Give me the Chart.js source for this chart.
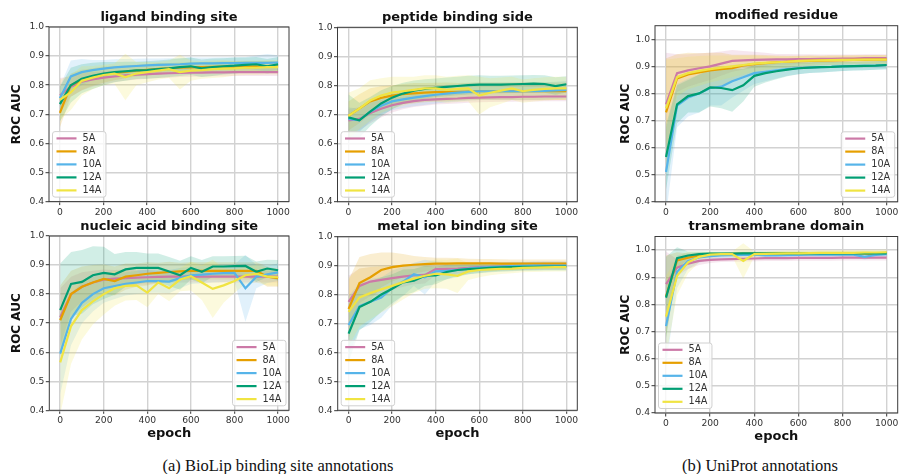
<!DOCTYPE html>
<html><head><meta charset="utf-8">
<script src="https://cdn.jsdelivr.net/npm/chart.js@4.4.0/dist/chart.umd.min.js"></script>
<style>
html,body{margin:0;padding:0;background:#fff;overflow:hidden;width:900px;height:474px;position:relative;}
.pc{position:absolute;}
.cap{position:absolute;font-family:"Liberation Serif","Times New Roman",serif;font-size:16.5px;color:#111;white-space:nowrap;transform:translate(-50%,-50%);line-height:1;}
</style></head><body>
<div class="cap" style="left:278px;top:466px">(a) BioLip binding site annotations</div>
<div class="cap" style="left:760px;top:466px">(b) UniProt annotations</div>
<script>
// ---------- data ----------
const epochs = [0,50,100,150,200,250,300,350,400,450,500,550,600,650,700,750,800,850,900,950,1000];
const seriesNames = ['5A','8A','10A','12A','14A'];
const seriesColors = ['#CC79A7','#E69F00','#56B4E9','#009E73','#F0E442'];
const xTicks = [0,200,400,600,800,1000];
const yTicks = [0.4,0.5,0.6,0.7,0.8,0.9,1.0];
const panelTitles = ['ligand binding site','peptide binding side','modified residue','nucleic acid binding site','metal ion binding site','transmembrane domain'];

// ligand binding site
const ligand5A  = [0.765,0.795,0.812,0.820,0.826,0.830,0.834,0.836,0.838,0.840,0.841,0.842,0.843,0.843,0.844,0.844,0.845,0.845,0.845,0.845,0.845];
const ligand8A  = [0.705,0.800,0.818,0.828,0.836,0.842,0.846,0.850,0.853,0.856,0.858,0.860,0.861,0.862,0.863,0.864,0.864,0.865,0.865,0.865,0.865];
const ligand10A = [0.755,0.830,0.845,0.852,0.857,0.861,0.864,0.866,0.868,0.870,0.871,0.872,0.874,0.875,0.875,0.876,0.876,0.877,0.877,0.877,0.878];
const ligand12A = [0.735,0.800,0.822,0.832,0.840,0.845,0.848,0.851,0.852,0.855,0.858,0.862,0.865,0.858,0.862,0.865,0.867,0.870,0.872,0.865,0.872];
const ligand14A = [0.750,0.775,0.815,0.826,0.835,0.840,0.828,0.840,0.845,0.850,0.855,0.845,0.850,0.852,0.855,0.857,0.858,0.860,0.860,0.862,0.862];
const ligandSd5A  = [0.060,0.035,0.030,0.025,0.022,0.020,0.018,0.017,0.016,0.015,0.015,0.014,0.014,0.014,0.013,0.013,0.013,0.013,0.013,0.013,0.013];
const ligandSd8A  = [0.050,0.040,0.035,0.030,0.028,0.025,0.022,0.020,0.020,0.020,0.018,0.018,0.018,0.018,0.018,0.018,0.018,0.018,0.018,0.018,0.018];
const ligandSd10A = [0.040,0.055,0.045,0.035,0.030,0.028,0.026,0.025,0.024,0.022,0.022,0.022,0.022,0.020,0.020,0.020,0.020,0.020,0.025,0.030,0.025];
const ligandSd12A = [0.060,0.060,0.050,0.045,0.040,0.035,0.033,0.030,0.030,0.030,0.030,0.030,0.030,0.030,0.030,0.028,0.028,0.025,0.025,0.025,0.025];
const ligandSd14A = [0.070,0.060,0.050,0.040,0.035,0.035,0.080,0.040,0.035,0.030,0.030,0.060,0.035,0.030,0.030,0.030,0.025,0.025,0.025,0.025,0.025];

// peptide binding side
const peptide5A  = [0.680,0.685,0.705,0.720,0.732,0.740,0.746,0.750,0.752,0.754,0.755,0.757,0.758,0.759,0.760,0.760,0.761,0.761,0.762,0.762,0.762];
const peptide8A  = [0.695,0.720,0.745,0.757,0.765,0.770,0.773,0.775,0.777,0.778,0.778,0.779,0.780,0.780,0.780,0.780,0.780,0.780,0.780,0.780,0.780];
const peptide10A = [0.685,0.680,0.710,0.730,0.745,0.752,0.758,0.763,0.768,0.772,0.775,0.778,0.780,0.780,0.780,0.780,0.780,0.780,0.781,0.783,0.785];
const peptide12A = [0.690,0.680,0.710,0.738,0.758,0.772,0.782,0.788,0.792,0.795,0.798,0.801,0.803,0.803,0.803,0.804,0.805,0.806,0.805,0.798,0.804];
const peptide14A = [0.695,0.720,0.748,0.765,0.775,0.780,0.785,0.790,0.790,0.785,0.788,0.790,0.765,0.775,0.782,0.790,0.780,0.785,0.788,0.790,0.790];
const peptideSd5A  = [0.040,0.040,0.035,0.030,0.025,0.022,0.020,0.020,0.018,0.018,0.017,0.017,0.016,0.016,0.016,0.016,0.016,0.016,0.016,0.016,0.016];
const peptideSd8A  = [0.050,0.050,0.045,0.040,0.035,0.035,0.035,0.033,0.032,0.032,0.030,0.030,0.030,0.030,0.030,0.030,0.030,0.030,0.030,0.030,0.030];
const peptideSd10A = [0.040,0.040,0.035,0.030,0.030,0.030,0.030,0.030,0.030,0.030,0.030,0.030,0.030,0.030,0.030,0.030,0.030,0.030,0.030,0.030,0.030];
const peptideSd12A = [0.080,0.060,0.050,0.045,0.040,0.037,0.035,0.033,0.032,0.032,0.032,0.032,0.032,0.030,0.030,0.030,0.030,0.030,0.030,0.030,0.028];
const peptideSd14A = [0.080,0.070,0.070,0.060,0.055,0.050,0.045,0.045,0.045,0.045,0.045,0.045,0.065,0.050,0.045,0.040,0.040,0.040,0.040,0.040,0.040];

// modified residue
const modified5A  = [0.760,0.875,0.885,0.893,0.900,0.910,0.920,0.922,0.924,0.925,0.926,0.926,0.927,0.927,0.928,0.928,0.929,0.929,0.930,0.930,0.930];
const modified8A  = [0.730,0.855,0.870,0.878,0.885,0.890,0.893,0.903,0.908,0.912,0.915,0.917,0.919,0.920,0.921,0.922,0.923,0.924,0.924,0.925,0.925];
const modified10A = [0.510,0.755,0.785,0.800,0.820,0.825,0.845,0.860,0.875,0.880,0.885,0.890,0.893,0.895,0.897,0.898,0.900,0.901,0.902,0.903,0.905];
const modified12A = [0.565,0.760,0.790,0.800,0.822,0.820,0.812,0.830,0.865,0.875,0.882,0.888,0.893,0.895,0.897,0.898,0.900,0.901,0.902,0.903,0.905];
const modified14A = [0.745,0.860,0.875,0.883,0.890,0.895,0.900,0.905,0.910,0.913,0.915,0.917,0.920,0.921,0.922,0.923,0.924,0.924,0.925,0.925,0.925];
const modifiedSd5A  = [0.190,0.070,0.060,0.055,0.050,0.045,0.040,0.035,0.030,0.025,0.020,0.020,0.018,0.018,0.016,0.016,0.015,0.015,0.015,0.015,0.015];
const modifiedSd8A  = [0.200,0.090,0.080,0.070,0.065,0.060,0.050,0.040,0.035,0.030,0.025,0.022,0.020,0.020,0.018,0.018,0.017,0.017,0.017,0.017,0.017];
const modifiedSd10A = [0.160,0.080,0.070,0.070,0.065,0.070,0.060,0.050,0.040,0.035,0.030,0.025,0.022,0.020,0.020,0.018,0.017,0.016,0.016,0.016,0.016];
const modifiedSd12A = [0.120,0.070,0.060,0.070,0.070,0.075,0.080,0.060,0.040,0.035,0.030,0.025,0.022,0.020,0.020,0.018,0.017,0.016,0.016,0.016,0.016];
const modifiedSd14A = [0.180,0.070,0.060,0.055,0.050,0.045,0.040,0.035,0.030,0.025,0.022,0.020,0.018,0.018,0.017,0.017,0.016,0.016,0.016,0.016,0.016];

// nucleic acid binding site
const nucleic5A  = [0.720,0.800,0.825,0.840,0.850,0.853,0.855,0.857,0.858,0.859,0.860,0.860,0.860,0.860,0.860,0.860,0.860,0.860,0.860,0.860,0.860];
const nucleic8A  = [0.710,0.800,0.825,0.840,0.852,0.845,0.860,0.865,0.870,0.873,0.876,0.878,0.880,0.880,0.880,0.880,0.880,0.880,0.880,0.860,0.855];
const nucleic10A = [0.595,0.715,0.770,0.800,0.820,0.828,0.835,0.840,0.845,0.845,0.843,0.855,0.865,0.867,0.870,0.872,0.873,0.820,0.860,0.868,0.875];
const nucleic12A = [0.745,0.835,0.842,0.865,0.873,0.868,0.885,0.890,0.890,0.890,0.878,0.865,0.890,0.877,0.895,0.895,0.896,0.897,0.877,0.888,0.882];
const nucleic14A = [0.565,0.690,0.745,0.775,0.800,0.820,0.828,0.830,0.805,0.840,0.820,0.850,0.862,0.840,0.818,0.830,0.845,0.865,0.870,0.860,0.858];
const nucleicSd5A  = [0.100,0.060,0.050,0.040,0.035,0.030,0.030,0.025,0.025,0.020,0.020,0.020,0.020,0.020,0.020,0.020,0.020,0.020,0.020,0.020,0.020];
const nucleicSd8A  = [0.120,0.080,0.070,0.060,0.050,0.050,0.045,0.040,0.040,0.035,0.035,0.030,0.030,0.030,0.030,0.030,0.030,0.030,0.030,0.035,0.030];
const nucleicSd10A = [0.140,0.090,0.070,0.060,0.050,0.045,0.040,0.040,0.040,0.040,0.040,0.035,0.030,0.030,0.030,0.030,0.030,0.115,0.040,0.030,0.030];
const nucleicSd12A = [0.160,0.110,0.110,0.100,0.090,0.070,0.060,0.055,0.050,0.050,0.050,0.050,0.040,0.040,0.035,0.035,0.035,0.035,0.035,0.030,0.035];
const nucleicSd14A = [0.180,0.130,0.100,0.080,0.070,0.060,0.050,0.050,0.050,0.040,0.045,0.040,0.050,0.060,0.100,0.060,0.040,0.030,0.030,0.030,0.030];

// metal ion binding site
const metal5A  = [0.775,0.830,0.845,0.851,0.857,0.862,0.866,0.868,0.888,0.889,0.890,0.892,0.895,0.896,0.897,0.898,0.898,0.899,0.900,0.900,0.900];
const metal8A  = [0.750,0.840,0.860,0.885,0.895,0.900,0.903,0.905,0.907,0.907,0.908,0.908,0.908,0.908,0.907,0.907,0.907,0.907,0.907,0.907,0.907];
const metal10A = [0.695,0.760,0.775,0.790,0.823,0.845,0.870,0.860,0.880,0.882,0.885,0.890,0.893,0.895,0.897,0.898,0.899,0.900,0.900,0.900,0.900];
const metal12A = [0.665,0.757,0.775,0.800,0.820,0.842,0.848,0.865,0.866,0.878,0.885,0.888,0.890,0.892,0.894,0.895,0.896,0.896,0.897,0.897,0.897];
const metal14A = [0.740,0.790,0.805,0.818,0.830,0.843,0.855,0.865,0.872,0.870,0.865,0.880,0.885,0.887,0.889,0.890,0.892,0.893,0.894,0.895,0.895];
const metalSd5A  = [0.090,0.060,0.050,0.045,0.040,0.035,0.030,0.030,0.020,0.020,0.018,0.016,0.015,0.015,0.014,0.014,0.014,0.014,0.014,0.014,0.014];
const metalSd8A  = [0.100,0.090,0.080,0.060,0.050,0.040,0.030,0.025,0.020,0.020,0.018,0.016,0.015,0.015,0.015,0.014,0.014,0.014,0.014,0.014,0.014];
const metalSd10A = [0.100,0.080,0.080,0.070,0.060,0.050,0.040,0.060,0.035,0.030,0.025,0.020,0.018,0.016,0.015,0.015,0.014,0.014,0.014,0.014,0.014];
const metalSd12A = [0.100,0.080,0.070,0.060,0.050,0.045,0.040,0.035,0.030,0.025,0.020,0.018,0.016,0.015,0.015,0.014,0.014,0.014,0.014,0.014,0.014];
const metalSd14A = [0.120,0.100,0.090,0.080,0.070,0.060,0.050,0.045,0.050,0.050,0.060,0.030,0.025,0.020,0.018,0.016,0.015,0.015,0.015,0.015,0.015];

// transmembrane domain
const trans5A  = [0.875,0.935,0.950,0.960,0.964,0.966,0.967,0.968,0.969,0.970,0.970,0.970,0.971,0.971,0.971,0.971,0.972,0.972,0.972,0.972,0.972];
const trans8A  = [0.830,0.962,0.972,0.980,0.984,0.985,0.986,0.987,0.987,0.987,0.988,0.988,0.988,0.988,0.988,0.988,0.988,0.988,0.988,0.985,0.990];
const trans10A = [0.720,0.920,0.960,0.973,0.978,0.980,0.981,0.982,0.983,0.980,0.980,0.981,0.982,0.983,0.983,0.983,0.983,0.983,0.975,0.982,0.985];
const trans12A = [0.825,0.970,0.980,0.985,0.987,0.987,0.987,0.988,0.988,0.988,0.988,0.988,0.988,0.988,0.988,0.988,0.988,0.988,0.988,0.988,0.988];
const trans14A = [0.755,0.905,0.955,0.975,0.983,0.985,0.985,0.960,0.985,0.986,0.987,0.988,0.988,0.989,0.990,0.990,0.990,0.990,0.991,0.991,0.992];
const transSd5A  = [0.120,0.030,0.020,0.015,0.012,0.010,0.010,0.010,0.010,0.010,0.010,0.010,0.010,0.010,0.010,0.010,0.010,0.010,0.010,0.010,0.010];
const transSd8A  = [0.150,0.030,0.015,0.010,0.008,0.007,0.007,0.007,0.007,0.007,0.007,0.007,0.007,0.007,0.007,0.007,0.007,0.007,0.007,0.007,0.007];
const transSd10A = [0.150,0.060,0.030,0.020,0.012,0.010,0.010,0.010,0.010,0.010,0.010,0.010,0.010,0.010,0.010,0.010,0.010,0.010,0.010,0.010,0.010];
const transSd12A = [0.150,0.040,0.015,0.010,0.007,0.007,0.007,0.007,0.007,0.007,0.007,0.007,0.007,0.007,0.007,0.007,0.007,0.007,0.007,0.007,0.007];
const transSd14A = [0.150,0.070,0.040,0.020,0.012,0.010,0.010,0.065,0.010,0.010,0.010,0.010,0.010,0.010,0.010,0.010,0.010,0.010,0.010,0.010,0.010];

const panelMeans = [
  [ligand5A,ligand8A,ligand10A,ligand12A,ligand14A],
  [peptide5A,peptide8A,peptide10A,peptide12A,peptide14A],
  [modified5A,modified8A,modified10A,modified12A,modified14A],
  [nucleic5A,nucleic8A,nucleic10A,nucleic12A,nucleic14A],
  [metal5A,metal8A,metal10A,metal12A,metal14A],
  [trans5A,trans8A,trans10A,trans12A,trans14A]
];
const panelSds = [
  [ligandSd5A,ligandSd8A,ligandSd10A,ligandSd12A,ligandSd14A],
  [peptideSd5A,peptideSd8A,peptideSd10A,peptideSd12A,peptideSd14A],
  [modifiedSd5A,modifiedSd8A,modifiedSd10A,modifiedSd12A,modifiedSd14A],
  [nucleicSd5A,nucleicSd8A,nucleicSd10A,nucleicSd12A,nucleicSd14A],
  [metalSd5A,metalSd8A,metalSd10A,metalSd12A,metalSd14A],
  [transSd5A,transSd8A,transSd10A,transSd12A,transSd14A]
];
const panelYMax = [1.0,1.0,1.05,1.0,1.0,1.05];

// ---------- layout (page coordinates of each plot area) ----------
const layoutBoxes = [
  {L:49,   T:27,    R:289,   B:201.6, ylab:16.7,  xlab:null,  corner:'bl'},
  {L:337.5,T:27.3,  R:577.3, B:201.7, ylab:null,  xlab:null,  corner:'bl'},
  {L:655,  T:25.7,  R:897.7, B:201.8, ylab:625.7, xlab:null,  corner:'br'},
  {L:49.3, T:236,   R:289,   B:410.3, ylab:16.7,  xlab:433.5, corner:'br'},
  {L:337.7,T:236.7, R:577.3, B:410.3, ylab:null,  xlab:433.5, corner:'bl'},
  {L:655,  T:236.5, R:897.7, B:413,   ylab:625.7, xlab:437,   corner:'bl'}
];

Chart.defaults.font.family = "'DejaVu Sans', sans-serif";

function rgba(hex, a){
  const n = parseInt(hex.slice(1),16);
  return `rgba(${(n>>16)&255},${(n>>8)&255},${n&255},${a})`;
}

const framePlugin = {
  id:'frame',
  afterDatasetsDraw(chart){
    const {ctx, chartArea:a} = chart;
    ctx.save();
    ctx.strokeStyle = '#3a3a3a';
    ctx.lineWidth = 1;
    ctx.strokeRect(a.left, a.top, a.right-a.left, a.bottom-a.top);
    ctx.restore();
  }
};

const legendPlugin = {
  id:'insetLegend',
  afterDraw(chart, args, opts){
    const {ctx, chartArea:a} = chart;
    ctx.save();
    ctx.font = "9.7px 'DejaVu Sans'";
    const tw = Math.max(...seriesNames.map(n => ctx.measureText(n).width));
    const w = 4 + 20 + 6 + tw + 4.5, h = 65.5;
    const x = opts.corner === 'br' ? a.right - 3 - w : a.left + 3.5;
    const y = a.bottom - 4.5 - h;
    const r = 2.5;
    ctx.beginPath();
    ctx.moveTo(x+r,y); ctx.lineTo(x+w-r,y); ctx.arcTo(x+w,y,x+w,y+r,r);
    ctx.lineTo(x+w,y+h-r); ctx.arcTo(x+w,y+h,x+w-r,y+h,r);
    ctx.lineTo(x+r,y+h); ctx.arcTo(x,y+h,x,y+h-r,r);
    ctx.lineTo(x,y+r); ctx.arcTo(x,y,x+r,y,r); ctx.closePath();
    ctx.fillStyle = 'rgba(255,255,255,0.8)';
    ctx.fill();
    ctx.strokeStyle = '#d0d0d0';
    ctx.lineWidth = 1;
    ctx.stroke();
    seriesNames.forEach((n,i) => {
      const yy = y + 6.8 + i*13;
      ctx.strokeStyle = seriesColors[i];
      ctx.lineWidth = 2.2;
      ctx.beginPath(); ctx.moveTo(x+4, yy); ctx.lineTo(x+24, yy); ctx.stroke();
      ctx.fillStyle = '#333';
      ctx.textBaseline = 'middle';
      ctx.textAlign = 'left';
      ctx.fillText(n, x+30, yy);
    });
    ctx.restore();
  }
};

function buildDatasets(means, sds){
  const ds = [];
  means.forEach((m,i) => {
    const col = seriesColors[i];
    ds.push({data: epochs.map((e,k)=>({x:e, y:m[k]+sds[i][k]})), borderWidth:0, pointRadius:0, fill:false, order:20-i});
    ds.push({data: epochs.map((e,k)=>({x:e, y:m[k]-sds[i][k]})), borderWidth:0, pointRadius:0, fill:'-1', backgroundColor: rgba(col,0.18), order:20-i});
  });
  means.forEach((m,i) => {
    ds.push({label:seriesNames[i], data: epochs.map((e,k)=>({x:e, y:m[k]})), borderColor:seriesColors[i], backgroundColor:seriesColors[i], borderWidth:2.2, pointRadius:0, fill:false, tension:0, order:5-i});
  });
  return ds;
}

layoutBoxes.forEach((g, p) => {
  const cx = g.ylab !== null ? Math.floor(g.ylab - 10) : Math.floor(g.L - 30);
  const cy = Math.floor(g.T - 20);
  const cb = Math.ceil(g.B + (g.xlab !== null ? 32 : 18));
  const cr = Math.ceil(g.R + 6);
  const Wy = g.L - cx, Hx = cb - g.B, titleBlock = g.T - cy, padR = cr - g.R;
  const cw = cr - cx, ch = cb - cy;
  const div = document.createElement('div');
  div.className = 'pc';
  div.style.left = cx + 'px'; div.style.top = cy + 'px';
  div.style.width = cw + 'px'; div.style.height = ch + 'px';
  const cv = document.createElement('canvas');
  cv.width = cw; cv.height = ch;
  cv.style.width = cw + 'px'; cv.style.height = ch + 'px';
  div.appendChild(cv);
  document.body.appendChild(div);

  const yTitlePad = g.ylab !== null ? (g.ylab - cx) - 7.2 : 0;
  const xTitlePad = g.xlab !== null ? (cb - g.xlab) - 7.8 : 0;

  new Chart(cv, {
    type:'line',
    data:{datasets: buildDatasets(panelMeans[p], panelSds[p])},
    options:{
      responsive:false, animation:false, devicePixelRatio:1,
      layout:{padding:{left:0, top:0, right:padR, bottom:0}},
      plugins:{
        legend:{display:false}, tooltip:{enabled:false},
        title:{display:true, text:panelTitles[p], fullSize:false, color:'#111',
               font:{size:13, weight:'bold'}, padding:{top:titleBlock-15.6-2, bottom:2}},
        insetLegend:{corner:g.corner}
      },
      scales:{
        x:{type:'linear', min:-50, max:1050,
           afterBuildTicks: s => { s.ticks = xTicks.map(v => ({value:v})); },
           afterFit: s => { s.height = Hx; },
           ticks:{font:{size:9.2}, color:'#333', padding:1.5, maxRotation:0, autoSkip:false, callback: v => String(v)},
           grid:{color:'#d2d2d2', lineWidth:1.4, tickLength:3.5, tickColor:'#333', tickWidth:1},
           border:{display:false},
           title:{display: g.xlab !== null, text:'epoch', color:'#111', font:{size:13, weight:'bold'}, padding:{top:0, bottom:xTitlePad}}
        },
        y:{type:'linear', min:0.4, max:panelYMax[p],
           afterBuildTicks: s => { s.ticks = yTicks.map(v => ({value:v})); },
           afterFit: s => { s.width = Wy; },
           ticks:{font:{size:9.2}, color:'#333', padding:1.5, autoSkip:false, callback: v => Number(v).toFixed(1)},
           grid:{color:'#d2d2d2', lineWidth:1.4, tickLength:3.5, tickColor:'#333', tickWidth:1},
           border:{display:false},
           title:{display: g.ylab !== null, text:'ROC AUC', color:'#111', font:{size:12, weight:'bold'}, padding:{top:yTitlePad, bottom:0}}
        }
      }
    },
    plugins:[framePlugin, legendPlugin]
  });
});
</script>
</body></html>
